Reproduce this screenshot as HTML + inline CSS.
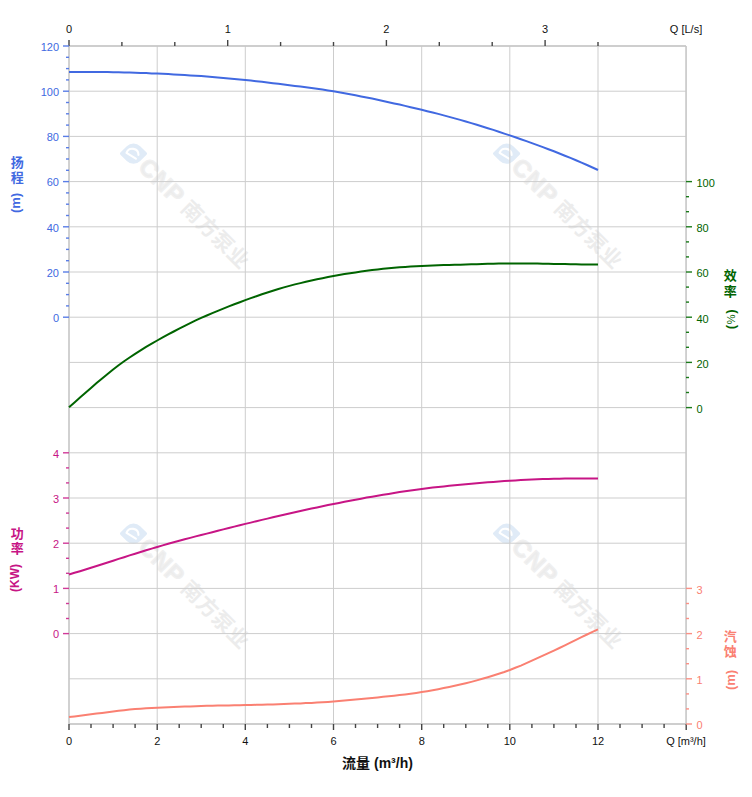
<!DOCTYPE html>
<html lang="zh"><head><meta charset="utf-8"><title>性能曲线</title>
<style>
html,body{margin:0;padding:0;background:#fff;}
body{width:752px;height:797px;overflow:hidden;position:relative;font-family:"Liberation Sans","Noto Sans CJK SC",sans-serif;}
svg{position:absolute;left:0;top:0;display:block}
text{font-family:"Liberation Sans","Noto Sans CJK SC",sans-serif;font-size:11px}
.grid line{stroke:#cdcdcd;stroke-width:1}
.wm text{font-weight:bold;fill:#ececec}
.vl{position:absolute;width:20px;text-align:center;font-weight:bold;font-size:13px;line-height:15px}
.vl span{display:block}
</style></head><body>
<svg width="752" height="797" viewBox="0 0 752 797">
<rect width="752" height="797" fill="#fff"/>
<g class="wm">
<g transform="translate(123.8,142.2) rotate(45)"><g transform="translate(14.9,1.2)"><path d="M-0.5,-10 H8.5 Q10,-10 10,-8.5 V0.5 A9.5,9.5 0 0 1 0.5,10 H-8.5 Q-10,10 -10,8.5 V-0.5 A9.5,9.5 0 0 1 -0.5,-10 Z" fill="#e0ebf7"/><path transform="rotate(-45)" d="M2.4,5.0 L-7.0,-0.8 A6.2,6.2 0 0 1 5.0,1.3" fill="none" stroke="#fff" stroke-width="2.1" stroke-linecap="round" stroke-linejoin="round"/></g><text x="27.8" y="8.9" style="font-size:24px;letter-spacing:1px" stroke="#f0f0f0" stroke-width="1.4" stroke-linejoin="round" fill="#f0f0f0">CNP</text><text x="87.2" y="8" style="font-size:21px;font-weight:bold;letter-spacing:0.5px" fill="#f3f3f3">南方泵业</text></g>
<g transform="translate(496.9,142.2) rotate(45)"><g transform="translate(14.9,1.2)"><path d="M-0.5,-10 H8.5 Q10,-10 10,-8.5 V0.5 A9.5,9.5 0 0 1 0.5,10 H-8.5 Q-10,10 -10,8.5 V-0.5 A9.5,9.5 0 0 1 -0.5,-10 Z" fill="#e0ebf7"/><path transform="rotate(-45)" d="M2.4,5.0 L-7.0,-0.8 A6.2,6.2 0 0 1 5.0,1.3" fill="none" stroke="#fff" stroke-width="2.1" stroke-linecap="round" stroke-linejoin="round"/></g><text x="27.8" y="8.9" style="font-size:24px;letter-spacing:1px" stroke="#f0f0f0" stroke-width="1.4" stroke-linejoin="round" fill="#f0f0f0">CNP</text><text x="87.2" y="8" style="font-size:21px;font-weight:bold;letter-spacing:0.5px" fill="#f3f3f3">南方泵业</text></g>
<g transform="translate(123.8,522.2) rotate(45)"><g transform="translate(14.9,1.2)"><path d="M-0.5,-10 H8.5 Q10,-10 10,-8.5 V0.5 A9.5,9.5 0 0 1 0.5,10 H-8.5 Q-10,10 -10,8.5 V-0.5 A9.5,9.5 0 0 1 -0.5,-10 Z" fill="#e0ebf7"/><path transform="rotate(-45)" d="M2.4,5.0 L-7.0,-0.8 A6.2,6.2 0 0 1 5.0,1.3" fill="none" stroke="#fff" stroke-width="2.1" stroke-linecap="round" stroke-linejoin="round"/></g><text x="27.8" y="8.9" style="font-size:24px;letter-spacing:1px" stroke="#f0f0f0" stroke-width="1.4" stroke-linejoin="round" fill="#f0f0f0">CNP</text><text x="87.2" y="8" style="font-size:21px;font-weight:bold;letter-spacing:0.5px" fill="#f3f3f3">南方泵业</text></g>
<g transform="translate(496.9,522.2) rotate(45)"><g transform="translate(14.9,1.2)"><path d="M-0.5,-10 H8.5 Q10,-10 10,-8.5 V0.5 A9.5,9.5 0 0 1 0.5,10 H-8.5 Q-10,10 -10,8.5 V-0.5 A9.5,9.5 0 0 1 -0.5,-10 Z" fill="#e0ebf7"/><path transform="rotate(-45)" d="M2.4,5.0 L-7.0,-0.8 A6.2,6.2 0 0 1 5.0,1.3" fill="none" stroke="#fff" stroke-width="2.1" stroke-linecap="round" stroke-linejoin="round"/></g><text x="27.8" y="8.9" style="font-size:24px;letter-spacing:1px" stroke="#f0f0f0" stroke-width="1.4" stroke-linejoin="round" fill="#f0f0f0">CNP</text><text x="87.2" y="8" style="font-size:21px;font-weight:bold;letter-spacing:0.5px" fill="#f3f3f3">南方泵业</text></g>
</g>
<g class="grid">
<line x1="69.0" y1="46.0" x2="686.0" y2="46.0"/>
<line x1="69.0" y1="91.2" x2="686.0" y2="91.2"/>
<line x1="69.0" y1="136.4" x2="686.0" y2="136.4"/>
<line x1="69.0" y1="181.6" x2="686.0" y2="181.6"/>
<line x1="69.0" y1="226.8" x2="686.0" y2="226.8"/>
<line x1="69.0" y1="272.0" x2="686.0" y2="272.0"/>
<line x1="69.0" y1="317.2" x2="686.0" y2="317.2"/>
<line x1="69.0" y1="362.4" x2="686.0" y2="362.4"/>
<line x1="69.0" y1="407.6" x2="686.0" y2="407.6"/>
<line x1="69.0" y1="452.8" x2="686.0" y2="452.8"/>
<line x1="69.0" y1="498.0" x2="686.0" y2="498.0"/>
<line x1="69.0" y1="543.2" x2="686.0" y2="543.2"/>
<line x1="69.0" y1="588.4" x2="686.0" y2="588.4"/>
<line x1="69.0" y1="633.6" x2="686.0" y2="633.6"/>
<line x1="69.0" y1="678.8" x2="686.0" y2="678.8"/>
<line x1="69.0" y1="724.0" x2="686.0" y2="724.0"/>
<line x1="69.0" y1="46.0" x2="69.0" y2="724.0"/>
<line x1="157.2" y1="46.0" x2="157.2" y2="724.0"/>
<line x1="245.3" y1="46.0" x2="245.3" y2="724.0"/>
<line x1="333.5" y1="46.0" x2="333.5" y2="724.0"/>
<line x1="421.7" y1="46.0" x2="421.7" y2="724.0"/>
<line x1="509.8" y1="46.0" x2="509.8" y2="724.0"/>
<line x1="598.0" y1="46.0" x2="598.0" y2="724.0"/>
<line x1="686.2" y1="46.0" x2="686.2" y2="724.0"/>
</g>
<g stroke="#c6c6c6" stroke-width="1.3" fill="none"><line x1="69.0" y1="46.0" x2="69.0" y2="724.0"/><line x1="686.0" y1="46.0" x2="686.0" y2="724.0"/><line x1="69.0" y1="46.0" x2="686.0" y2="46.0"/><line x1="69.0" y1="724.0" x2="686.0" y2="724.0"/></g>
<g stroke="#444" stroke-width="1.4">
<line x1="69.0" y1="40.0" x2="69.0" y2="46.0"/>
<line x1="121.9" y1="42.0" x2="121.9" y2="46.0"/>
<line x1="174.8" y1="42.0" x2="174.8" y2="46.0"/>
<line x1="227.7" y1="40.0" x2="227.7" y2="46.0"/>
<line x1="280.6" y1="42.0" x2="280.6" y2="46.0"/>
<line x1="333.5" y1="42.0" x2="333.5" y2="46.0"/>
<line x1="386.4" y1="40.0" x2="386.4" y2="46.0"/>
<line x1="439.3" y1="42.0" x2="439.3" y2="46.0"/>
<line x1="492.2" y1="42.0" x2="492.2" y2="46.0"/>
<line x1="545.1" y1="40.0" x2="545.1" y2="46.0"/>
<line x1="598.0" y1="42.0" x2="598.0" y2="46.0"/>
<line x1="69.0" y1="724.0" x2="69.0" y2="730.0"/>
<line x1="91.0" y1="724.0" x2="91.0" y2="728.0"/>
<line x1="113.1" y1="724.0" x2="113.1" y2="728.0"/>
<line x1="135.1" y1="724.0" x2="135.1" y2="728.0"/>
<line x1="157.2" y1="724.0" x2="157.2" y2="730.0"/>
<line x1="179.2" y1="724.0" x2="179.2" y2="728.0"/>
<line x1="201.2" y1="724.0" x2="201.2" y2="728.0"/>
<line x1="223.3" y1="724.0" x2="223.3" y2="728.0"/>
<line x1="245.3" y1="724.0" x2="245.3" y2="730.0"/>
<line x1="267.4" y1="724.0" x2="267.4" y2="728.0"/>
<line x1="289.4" y1="724.0" x2="289.4" y2="728.0"/>
<line x1="311.5" y1="724.0" x2="311.5" y2="728.0"/>
<line x1="333.5" y1="724.0" x2="333.5" y2="730.0"/>
<line x1="355.5" y1="724.0" x2="355.5" y2="728.0"/>
<line x1="377.6" y1="724.0" x2="377.6" y2="728.0"/>
<line x1="399.6" y1="724.0" x2="399.6" y2="728.0"/>
<line x1="421.7" y1="724.0" x2="421.7" y2="730.0"/>
<line x1="443.7" y1="724.0" x2="443.7" y2="728.0"/>
<line x1="465.8" y1="724.0" x2="465.8" y2="728.0"/>
<line x1="487.8" y1="724.0" x2="487.8" y2="728.0"/>
<line x1="509.8" y1="724.0" x2="509.8" y2="730.0"/>
<line x1="531.9" y1="724.0" x2="531.9" y2="728.0"/>
<line x1="553.9" y1="724.0" x2="553.9" y2="728.0"/>
<line x1="576.0" y1="724.0" x2="576.0" y2="728.0"/>
<line x1="598.0" y1="724.0" x2="598.0" y2="730.0"/>
<line x1="620.0" y1="724.0" x2="620.0" y2="728.0"/>
<line x1="642.1" y1="724.0" x2="642.1" y2="728.0"/>
<line x1="664.1" y1="724.0" x2="664.1" y2="728.0"/>
<line x1="686.2" y1="724.0" x2="686.2" y2="730.0"/>
</g>
<g fill="#111" text-anchor="middle">
<text x="69.0" y="33">0</text>
<text x="227.7" y="33">1</text>
<text x="386.4" y="33">2</text>
<text x="545.1" y="33">3</text>
<text x="686.0" y="33">Q [L/s]</text>
<text x="69.0" y="744.5">0</text>
<text x="157.2" y="744.5">2</text>
<text x="245.3" y="744.5">4</text>
<text x="333.5" y="744.5">6</text>
<text x="421.7" y="744.5">8</text>
<text x="509.8" y="744.5">10</text>
<text x="598.0" y="744.5">12</text>
<text x="686.0" y="744.5">Q [m³/h]</text>
<text x="377.5" y="768" style="font-size:14px;font-weight:bold">流量 (m³/h)</text>
</g>
<g stroke="#5a7de6" stroke-width="1.4">
<line x1="63.0" y1="317.2" x2="69.0" y2="317.2"/>
<line x1="66.0" y1="305.9" x2="69.0" y2="305.9"/>
<line x1="66.0" y1="294.6" x2="69.0" y2="294.6"/>
<line x1="66.0" y1="283.3" x2="69.0" y2="283.3"/>
<line x1="63.0" y1="272.0" x2="69.0" y2="272.0"/>
<line x1="66.0" y1="260.7" x2="69.0" y2="260.7"/>
<line x1="66.0" y1="249.4" x2="69.0" y2="249.4"/>
<line x1="66.0" y1="238.1" x2="69.0" y2="238.1"/>
<line x1="63.0" y1="226.8" x2="69.0" y2="226.8"/>
<line x1="66.0" y1="215.5" x2="69.0" y2="215.5"/>
<line x1="66.0" y1="204.2" x2="69.0" y2="204.2"/>
<line x1="66.0" y1="192.9" x2="69.0" y2="192.9"/>
<line x1="63.0" y1="181.6" x2="69.0" y2="181.6"/>
<line x1="66.0" y1="170.3" x2="69.0" y2="170.3"/>
<line x1="66.0" y1="159.0" x2="69.0" y2="159.0"/>
<line x1="66.0" y1="147.7" x2="69.0" y2="147.7"/>
<line x1="63.0" y1="136.4" x2="69.0" y2="136.4"/>
<line x1="66.0" y1="125.1" x2="69.0" y2="125.1"/>
<line x1="66.0" y1="113.8" x2="69.0" y2="113.8"/>
<line x1="66.0" y1="102.5" x2="69.0" y2="102.5"/>
<line x1="63.0" y1="91.2" x2="69.0" y2="91.2"/>
<line x1="66.0" y1="79.9" x2="69.0" y2="79.9"/>
<line x1="66.0" y1="68.6" x2="69.0" y2="68.6"/>
<line x1="66.0" y1="57.3" x2="69.0" y2="57.3"/>
<line x1="63.0" y1="46.0" x2="69.0" y2="46.0"/>
</g>
<g fill="#4169e1" text-anchor="end">
<text x="59" y="322.0">0</text>
<text x="59" y="276.8">20</text>
<text x="59" y="231.6">40</text>
<text x="59" y="186.4">60</text>
<text x="59" y="141.2">80</text>
<text x="59" y="96.0">100</text>
<text x="59" y="50.8">120</text>
</g>
<g stroke="#1a7a1a" stroke-width="1.4">
<line x1="686.0" y1="407.6" x2="692.0" y2="407.6"/>
<line x1="686.0" y1="392.5" x2="689.0" y2="392.5"/>
<line x1="686.0" y1="377.5" x2="689.0" y2="377.5"/>
<line x1="686.0" y1="362.4" x2="692.0" y2="362.4"/>
<line x1="686.0" y1="347.3" x2="689.0" y2="347.3"/>
<line x1="686.0" y1="332.3" x2="689.0" y2="332.3"/>
<line x1="686.0" y1="317.2" x2="692.0" y2="317.2"/>
<line x1="686.0" y1="302.1" x2="689.0" y2="302.1"/>
<line x1="686.0" y1="287.1" x2="689.0" y2="287.1"/>
<line x1="686.0" y1="272.0" x2="692.0" y2="272.0"/>
<line x1="686.0" y1="256.9" x2="689.0" y2="256.9"/>
<line x1="686.0" y1="241.9" x2="689.0" y2="241.9"/>
<line x1="686.0" y1="226.8" x2="692.0" y2="226.8"/>
<line x1="686.0" y1="211.7" x2="689.0" y2="211.7"/>
<line x1="686.0" y1="196.7" x2="689.0" y2="196.7"/>
<line x1="686.0" y1="181.6" x2="692.0" y2="181.6"/>
</g>
<g fill="#006400" text-anchor="start">
<text x="696.5" y="413.0">0</text>
<text x="696.5" y="367.8">20</text>
<text x="696.5" y="322.6">40</text>
<text x="696.5" y="277.4">60</text>
<text x="696.5" y="232.2">80</text>
<text x="696.5" y="187.0">100</text>
</g>
<g stroke="#d03a98" stroke-width="1.4">
<line x1="63.0" y1="633.6" x2="69.0" y2="633.6"/>
<line x1="66.0" y1="618.5" x2="69.0" y2="618.5"/>
<line x1="66.0" y1="603.5" x2="69.0" y2="603.5"/>
<line x1="63.0" y1="588.4" x2="69.0" y2="588.4"/>
<line x1="66.0" y1="573.3" x2="69.0" y2="573.3"/>
<line x1="66.0" y1="558.3" x2="69.0" y2="558.3"/>
<line x1="63.0" y1="543.2" x2="69.0" y2="543.2"/>
<line x1="66.0" y1="528.1" x2="69.0" y2="528.1"/>
<line x1="66.0" y1="513.1" x2="69.0" y2="513.1"/>
<line x1="63.0" y1="498.0" x2="69.0" y2="498.0"/>
<line x1="66.0" y1="482.9" x2="69.0" y2="482.9"/>
<line x1="66.0" y1="467.9" x2="69.0" y2="467.9"/>
<line x1="63.0" y1="452.8" x2="69.0" y2="452.8"/>
</g>
<g fill="#c71585" text-anchor="end">
<text x="59" y="638.4">0</text>
<text x="59" y="593.2">1</text>
<text x="59" y="548.0">2</text>
<text x="59" y="502.8">3</text>
<text x="59" y="457.6">4</text>
</g>
<g stroke="#fb9085" stroke-width="1.4">
<line x1="686.0" y1="724.0" x2="692.0" y2="724.0"/>
<line x1="686.0" y1="708.9" x2="689.0" y2="708.9"/>
<line x1="686.0" y1="693.9" x2="689.0" y2="693.9"/>
<line x1="686.0" y1="678.8" x2="692.0" y2="678.8"/>
<line x1="686.0" y1="663.7" x2="689.0" y2="663.7"/>
<line x1="686.0" y1="648.7" x2="689.0" y2="648.7"/>
<line x1="686.0" y1="633.6" x2="692.0" y2="633.6"/>
<line x1="686.0" y1="618.5" x2="689.0" y2="618.5"/>
<line x1="686.0" y1="603.5" x2="689.0" y2="603.5"/>
<line x1="686.0" y1="588.4" x2="692.0" y2="588.4"/>
</g>
<g fill="#fa8072" text-anchor="start">
<text x="696.5" y="729.4">0</text>
<text x="696.5" y="684.2">1</text>
<text x="696.5" y="639.0">2</text>
<text x="696.5" y="593.8">3</text>
</g>
<g fill="none" stroke-linecap="butt" stroke-linejoin="round">
<path d="M69.0,72.0 L74.5,72.0 L80.0,71.9 L85.5,71.9 L91.0,71.9 L96.6,72.0 L102.1,72.0 L107.6,72.1 L113.1,72.2 L118.6,72.3 L124.1,72.4 L129.6,72.6 L135.1,72.8 L140.6,72.9 L146.1,73.1 L151.7,73.4 L157.2,73.6 L162.7,73.8 L168.2,74.1 L173.7,74.4 L179.2,74.7 L184.7,75.0 L190.2,75.4 L195.7,75.7 L201.2,76.1 L206.8,76.5 L212.3,76.9 L217.8,77.4 L223.3,77.9 L228.8,78.4 L234.3,78.9 L239.8,79.4 L245.3,80.0 L250.8,80.6 L256.4,81.2 L261.9,81.8 L267.4,82.5 L272.9,83.2 L278.4,83.8 L283.9,84.5 L289.4,85.2 L294.9,85.9 L300.4,86.6 L305.9,87.3 L311.5,88.0 L317.0,88.8 L322.5,89.6 L328.0,90.4 L333.5,91.3 L339.0,92.2 L344.5,93.2 L350.0,94.2 L355.5,95.3 L361.1,96.4 L366.6,97.5 L372.1,98.6 L377.6,99.8 L383.1,101.0 L388.6,102.2 L394.1,103.4 L399.6,104.6 L405.1,105.9 L410.6,107.2 L416.2,108.5 L421.7,109.8 L427.2,111.2 L432.7,112.5 L438.2,113.9 L443.7,115.4 L449.2,116.9 L454.7,118.4 L460.2,119.9 L465.8,121.5 L471.3,123.1 L476.8,124.8 L482.3,126.5 L487.8,128.2 L493.3,129.9 L498.8,131.7 L504.3,133.6 L509.8,135.4 L515.3,137.3 L520.9,139.2 L526.4,141.1 L531.9,143.1 L537.4,145.1 L542.9,147.1 L548.4,149.2 L553.9,151.3 L559.4,153.5 L564.9,155.7 L570.4,157.9 L576.0,160.2 L581.5,162.6 L587.0,165.0 L592.5,167.5 L598.0,170.0" stroke="#4169e1" stroke-width="2"/>
<path d="M69.0,407.2 L74.5,402.4 L80.0,397.6 L85.5,392.7 L91.0,387.9 L96.6,383.1 L102.1,378.4 L107.6,373.9 L113.1,369.5 L118.6,365.3 L124.1,361.3 L129.6,357.5 L135.1,353.8 L140.6,350.3 L146.1,346.9 L151.7,343.7 L157.2,340.5 L162.7,337.4 L168.2,334.4 L173.7,331.5 L179.2,328.6 L184.7,325.8 L190.2,323.1 L195.7,320.4 L201.2,317.9 L206.8,315.5 L212.3,313.1 L217.8,310.8 L223.3,308.6 L228.8,306.4 L234.3,304.3 L239.8,302.2 L245.3,300.1 L250.8,298.1 L256.4,296.2 L261.9,294.3 L267.4,292.5 L272.9,290.7 L278.4,289.0 L283.9,287.4 L289.4,285.9 L294.9,284.4 L300.4,283.1 L305.9,281.8 L311.5,280.5 L317.0,279.3 L322.5,278.2 L328.0,277.1 L333.5,276.1 L339.0,275.1 L344.5,274.1 L350.0,273.2 L355.5,272.4 L361.1,271.6 L366.6,270.8 L372.1,270.1 L377.6,269.4 L383.1,268.8 L388.6,268.2 L394.1,267.7 L399.6,267.3 L405.1,266.9 L410.6,266.5 L416.2,266.2 L421.7,265.9 L427.2,265.7 L432.7,265.4 L438.2,265.3 L443.7,265.1 L449.2,264.9 L454.7,264.8 L460.2,264.7 L465.8,264.5 L471.3,264.3 L476.8,264.2 L482.3,264.0 L487.8,263.8 L493.3,263.7 L498.8,263.6 L504.3,263.5 L509.8,263.4 L515.3,263.4 L520.9,263.4 L526.4,263.4 L531.9,263.5 L537.4,263.6 L542.9,263.7 L548.4,263.8 L553.9,263.9 L559.4,264.0 L564.9,264.1 L570.4,264.2 L576.0,264.3 L581.5,264.4 L587.0,264.5 L592.5,264.5 L598.0,264.5" stroke="#006400" stroke-width="2"/>
<path d="M69.0,574.5 L74.5,572.8 L80.0,571.2 L85.5,569.5 L91.0,567.7 L96.6,566.0 L102.1,564.2 L107.6,562.5 L113.1,560.7 L118.6,558.9 L124.1,557.2 L129.6,555.4 L135.1,553.7 L140.6,552.0 L146.1,550.3 L151.7,548.6 L157.2,547.0 L162.7,545.4 L168.2,543.8 L173.7,542.3 L179.2,540.8 L184.7,539.3 L190.2,537.9 L195.7,536.4 L201.2,535.0 L206.8,533.6 L212.3,532.2 L217.8,530.8 L223.3,529.4 L228.8,528.0 L234.3,526.6 L239.8,525.3 L245.3,523.9 L250.8,522.6 L256.4,521.2 L261.9,519.9 L267.4,518.6 L272.9,517.3 L278.4,516.0 L283.9,514.8 L289.4,513.5 L294.9,512.3 L300.4,511.0 L305.9,509.8 L311.5,508.6 L317.0,507.4 L322.5,506.3 L328.0,505.1 L333.5,504.0 L339.0,502.9 L344.5,501.8 L350.0,500.7 L355.5,499.7 L361.1,498.7 L366.6,497.6 L372.1,496.7 L377.6,495.7 L383.1,494.8 L388.6,493.9 L394.1,493.0 L399.6,492.1 L405.1,491.3 L410.6,490.5 L416.2,489.7 L421.7,489.0 L427.2,488.3 L432.7,487.6 L438.2,487.0 L443.7,486.4 L449.2,485.8 L454.7,485.3 L460.2,484.7 L465.8,484.2 L471.3,483.7 L476.8,483.2 L482.3,482.7 L487.8,482.3 L493.3,481.9 L498.8,481.4 L504.3,481.1 L509.8,480.7 L515.3,480.4 L520.9,480.1 L526.4,479.8 L531.9,479.5 L537.4,479.3 L542.9,479.1 L548.4,478.9 L553.9,478.8 L559.4,478.7 L564.9,478.6 L570.4,478.5 L576.0,478.5 L581.5,478.5 L587.0,478.5 L592.5,478.5 L598.0,478.6" stroke="#c71585" stroke-width="2"/>
<path d="M69.0,717.1 L74.5,716.4 L80.0,715.7 L85.5,715.0 L91.0,714.3 L96.6,713.6 L102.1,712.9 L107.6,712.2 L113.1,711.5 L118.6,710.8 L124.1,710.2 L129.6,709.6 L135.1,709.1 L140.6,708.7 L146.1,708.3 L151.7,708.0 L157.2,707.7 L162.7,707.5 L168.2,707.2 L173.7,707.0 L179.2,706.8 L184.7,706.6 L190.2,706.4 L195.7,706.2 L201.2,706.0 L206.8,705.8 L212.3,705.7 L217.8,705.6 L223.3,705.5 L228.8,705.4 L234.3,705.3 L239.8,705.2 L245.3,705.1 L250.8,705.0 L256.4,704.8 L261.9,704.7 L267.4,704.5 L272.9,704.4 L278.4,704.2 L283.9,704.0 L289.4,703.8 L294.9,703.6 L300.4,703.4 L305.9,703.1 L311.5,702.9 L317.0,702.6 L322.5,702.2 L328.0,701.9 L333.5,701.5 L339.0,701.1 L344.5,700.6 L350.0,700.1 L355.5,699.6 L361.1,699.1 L366.6,698.5 L372.1,698.0 L377.6,697.4 L383.1,696.8 L388.6,696.3 L394.1,695.7 L399.6,695.1 L405.1,694.4 L410.6,693.7 L416.2,692.9 L421.7,692.1 L427.2,691.2 L432.7,690.2 L438.2,689.2 L443.7,688.1 L449.2,687.0 L454.7,685.8 L460.2,684.6 L465.8,683.3 L471.3,681.9 L476.8,680.4 L482.3,678.8 L487.8,677.2 L493.3,675.5 L498.8,673.8 L504.3,672.0 L509.8,670.0 L515.3,667.8 L520.9,665.6 L526.4,663.2 L531.9,660.7 L537.4,658.2 L542.9,655.7 L548.4,653.2 L553.9,650.6 L559.4,648.0 L564.9,645.3 L570.4,642.6 L576.0,639.9 L581.5,637.2 L587.0,634.5 L592.5,631.9 L598.0,629.3" stroke="#fa8072" stroke-width="2"/>
</g>
<g fill="#4169e1" style="font-weight:bold" text-anchor="middle">
<text x="17.3" y="167.2" style="font-size:13px;font-weight:bold">扬</text>
<text x="17.3" y="182.4" style="font-size:13px;font-weight:bold">程</text>
<text transform="translate(19.8,203) rotate(-90)" style="font-size:13px;font-weight:bold">(m)</text>
</g>
<g fill="#c71585" style="font-weight:bold" text-anchor="middle">
<text x="17.3" y="537.5" style="font-size:13px;font-weight:bold">功</text>
<text x="17.3" y="552.7" style="font-size:13px;font-weight:bold">率</text>
<text transform="translate(19.400000000000002,578) rotate(-90)" style="font-size:12px;font-weight:bold">(KW)</text>
</g>
<g fill="#006400" style="font-weight:bold" text-anchor="middle">
<text x="730.2" y="280.3" style="font-size:13px;font-weight:bold">效</text>
<text x="730.2" y="295.5" style="font-size:13px;font-weight:bold">率</text>
<text transform="translate(734.8000000000001,319.3) rotate(-90)" style="font-size:13px;font-weight:bold">(<tspan style="font-size:11px;font-weight:normal" dx="0.6">%</tspan><tspan dx="0.6">)</tspan></text>
</g>
<g fill="#fa8072" style="font-weight:bold" text-anchor="middle">
<text x="730.2" y="641.1" style="font-size:13px;font-weight:bold">汽</text>
<text x="730.2" y="656.3" style="font-size:13px;font-weight:bold">蚀</text>
<text transform="translate(734.8000000000001,680) rotate(-90)" style="font-size:13px;font-weight:bold">(m)</text>
</g>
</svg></body></html>
